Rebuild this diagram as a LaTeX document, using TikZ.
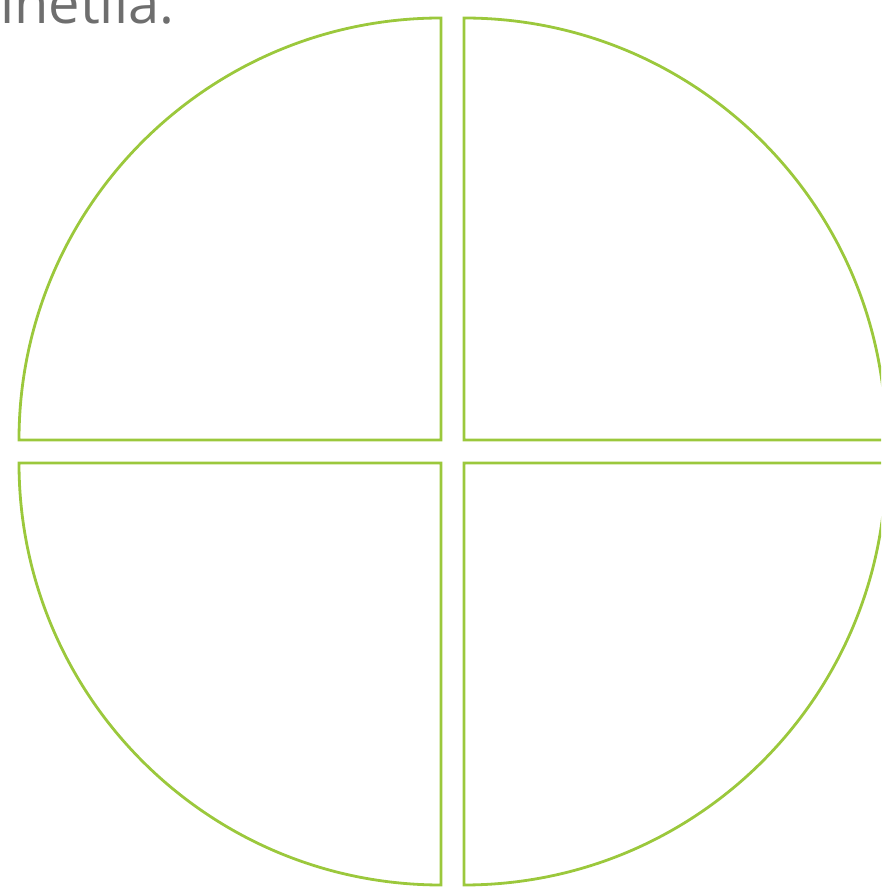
\documentclass[tikz,border=0pt]{standalone}
\usepackage{fontspec}
\setmainfont{Open Sans}
\usetikzlibrary{positioning}
\definecolor{leafgreen}{HTML}{9BC83C}
\definecolor{textgrey}{HTML}{6E6E6E}

\begin{document}
\begin{tikzpicture}[
        x=1pt, y=1pt,
        quarter/.style={draw=leafgreen, line width=2.8pt, line join=miter},
        caption/.style={text=textgrey, font=\fontsize{56}{56}\selectfont, inner sep=0pt}
    ]
        \useasboundingbox (0,0) rectangle (881,889);
        \clip (0,0) rectangle (881,889);
        % heading, cut by the top edge
        \node[caption, anchor=base west] (head) at (0,865) {inetlia:};
        % the four quarters
        \draw[quarter] (441,449) -- (19,449) arc (180:90:422) -- cycle;
        \draw[quarter] (464,449) -- (464,871) arc (90:0:422) -- cycle;
        \draw[quarter] (441,426) -- (19,426) arc (180:270:422) -- cycle;
        \draw[quarter] (464,426) -- (886,426) arc (0:-90:422) -- cycle;
    \end{tikzpicture}
\end{document}
